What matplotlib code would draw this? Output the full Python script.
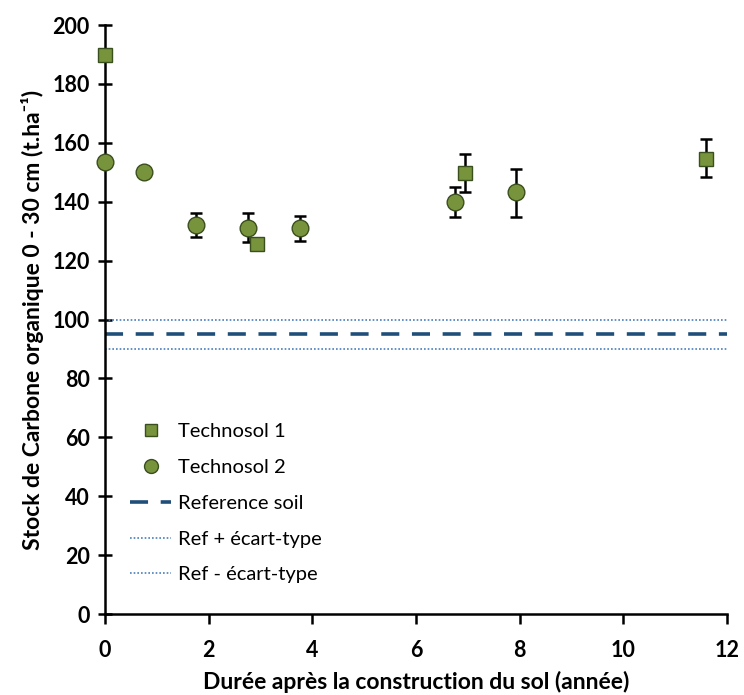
import matplotlib
matplotlib.use("Agg")
import matplotlib.pyplot as plt
from matplotlib.lines import Line2D

# Data
t1_x = [0.0, 2.93, 6.95, 11.6]
t1_y = [189.8, 125.6, 149.7, 154.5]
t1_err_lo = [0.0, 0.0, 6.4, 6.1]
t1_err_hi = [0.0, 0.0, 6.5, 6.8]

t2_x = [0.0, 0.75, 1.76, 2.76, 3.76, 6.76, 7.93]
t2_y = [153.5, 150.1, 132.1, 131.1, 131.0, 139.9, 143.3]
t2_err_lo = [0.0, 0.0, 4.0, 4.8, 4.5, 5.1, 8.5]
t2_err_hi = [0.0, 0.0, 4.1, 5.1, 4.0, 5.1, 7.8]

ref_mean = 95.0
ref_sd = 5.0

x_ticks = [0, 2, 4, 6, 8, 10, 12]
y_ticks = [0, 20, 40, 60, 80, 100, 120, 140, 160, 180, 200]

plt.rcParams['font.family'] = ['Lato', 'DejaVu Sans']

green = '#77933C'
edge = '#3A4F1E'
dark_blue = '#1F4E79'
light_blue = '#4A7EBB'

fig = plt.figure(figsize=(7.44, 6.95), dpi=100)
ax = fig.add_axes([0.141, 0.1165, 0.836, 0.8475])

ax.plot([0, 12], [ref_mean, ref_mean], ls=(0, (5, 3.5)), color=dark_blue, lw=2.6, zorder=2)
ax.plot([0, 12], [ref_mean + ref_sd] * 2, ls=(0, (1, 1.2)), color=light_blue, lw=1.2, zorder=2)
ax.plot([0, 12], [ref_mean - ref_sd] * 2, ls=(0, (1, 1.2)), color=light_blue, lw=1.2, zorder=2)

ax.errorbar(t2_x, t2_y, yerr=[t2_err_lo, t2_err_hi], fmt='none', ecolor='black',
            elinewidth=1.8, capsize=4, capthick=1.8, zorder=3)
ax.errorbar(t1_x, t1_y, yerr=[t1_err_lo, t1_err_hi], fmt='none', ecolor='black',
            elinewidth=1.8, capsize=4, capthick=1.8, zorder=3)
ax.plot(t2_x, t2_y, 'o', ms=12, mfc=green, mec=edge, mew=1.0, ls='none', zorder=4, clip_on=False)
ax.plot(t1_x, t1_y, 's', ms=10.5, mfc=green, mec=edge, mew=1.0, ls='none', zorder=5, clip_on=False)

ax.set_xlim(0, 12)
ax.set_ylim(0, 200)
ax.set_xticks(x_ticks)
ax.set_yticks(y_ticks)
for s in ['top', 'right']:
    ax.spines[s].set_visible(False)
for s in ['left', 'bottom']:
    ax.spines[s].set_linewidth(1.8)
ax.tick_params(axis='y', direction='inout', length=10, width=1.8, pad=6, labelsize=15.5)
ax.tick_params(axis='x', direction='out', length=7, width=1.8, pad=12, labelsize=15.5)
for lab in ax.get_xticklabels() + ax.get_yticklabels():
    lab.set_fontweight('bold')

ax.set_xlabel('Durée après la construction du sol (année)', fontsize=16.5, fontweight='bold', labelpad=7)
ax.set_ylabel('Stock de Carbone organique 0 - 30 cm (t.ha\u207b\u00b9)', fontsize=16.5,
              fontweight='bold', labelpad=6)

handles = [
    Line2D([], [], marker='s', ls='none', ms=9, mfc=green, mec=edge, mew=1.0),
    Line2D([], [], marker='o', ls='none', ms=10, mfc=green, mec=edge, mew=1.0),
    Line2D([], [], ls=(0, (5, 3.5)), color=dark_blue, lw=2.6),
    Line2D([], [], ls=(0, (1, 1.2)), color=light_blue, lw=1.2),
    Line2D([], [], ls=(0, (1, 1.2)), color=light_blue, lw=1.2),
]
labels = ['Technosol 1', 'Technosol 2', 'Reference soil', 'Ref + écart-type', 'Ref - écart-type']
ax.legend(handles, labels, loc='upper left', bbox_to_anchor=(0.012, 0.355), frameon=False,
          fontsize=14.5, handlelength=2.0, handletextpad=0.35, labelspacing=0.93)

fig.savefig('out.png', dpi=100)
